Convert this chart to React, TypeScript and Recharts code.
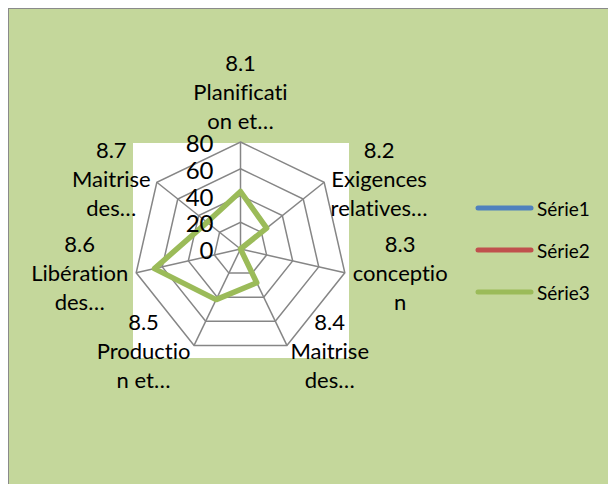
import React from "react";
import {
  RadarChart,
  Radar,
  PolarGrid,
  PolarAngleAxis,
  PolarRadiusAxis,
  Legend,
} from "recharts";

// axes and series
const categories = [
  "8.1\nPlanificati\non et…",
  "8.2\nExigences\nrelatives…",
  "8.3\nconceptio\nn",
  "8.4\nMaitrise\ndes…",
  "8.5\nProductio\nn et…",
  "8.6\nLibération\ndes…",
  "8.7\nMaitrise\ndes…",
];
const serie1 = [0, 0, 0, 0, 0, 0, 0];
const serie2 = [0, 0, 0, 0, 0, 0, 0];
const serie3 = [43, 25, 0, 28, 42, 66, 32];
const radiusTicks = [0, 20, 40, 60, 80];
const seriesNames = ["Série1", "Série2", "Série3"];

const data = categories.map((cat, i) => ({
  cat,
  s1: serie1[i],
  s2: serie2[i],
  s3: serie3[i],
}));

const FONT = "Lato, 'Open Sans', sans-serif";
const LABEL_SIZE = 22;
const CX = 231.5;
const CY = 240;
const LINE = 29;

// width of a line of label text, so each block can be centred like Excel does
let ctx: CanvasRenderingContext2D | null = null;
const textWidth = (s: string) => {
  if (!ctx) ctx = document.createElement("canvas").getContext("2d");
  if (!ctx) return s.length * 10;
  ctx.font = `${LABEL_SIZE}px ${FONT}`;
  return ctx.measureText(s).width;
};

const AngleTick = (props: any) => {
  const { x, y, textAnchor, payload } = props;
  const lines = String(payload.value).split("\n");
  const w = Math.max(...lines.map(textWidth));
  let center = x;
  if (textAnchor === "start") center = x + w / 2;
  if (textAnchor === "end") center = x - w / 2;
  // top label sits above the vertex, side labels are centred on it
  let mid = y < CY ? 10 : 6;
  if (textAnchor === "middle") mid = -34;
  return (
    <text
      x={center}
      y={y}
      textAnchor="middle"
      fontFamily={FONT}
      fontSize={LABEL_SIZE}
      fill="#000"
      style={{ fontVariantLigatures: "none" }}
    >
      {lines.map((l, i) => (
        <tspan key={i} x={center} y={y + mid + (i - 1) * LINE}>
          {l}
        </tspan>
      ))}
    </text>
  );
};

const RadiusTick = (props: any) => {
  const { x, y, payload } = props;
  return (
    <text
      x={x - 27}
      y={y + 10}
      textAnchor="end"
      fontFamily={FONT}
      fontSize={24}
      fill="#000"
    >
      {payload.value}
    </text>
  );
};

const renderLegend = () => {
  const colors = ["#4F81BD", "#C0504D", "#9BBB59"];
  return (
    <div style={{ fontFamily: FONT, fontSize: 19 }}>
      {seriesNames.map((n, i) => (
        <div
          key={n}
          style={{ display: "flex", alignItems: "center", height: 42 }}
        >
          <svg width={62} height={10} style={{ display: "block" }}>
            <line
              x1={3}
              y1={5}
              x2={56}
              y2={5}
              stroke={colors[i]}
              strokeWidth={5}
              strokeLinecap="round"
            />
          </svg>
          <span>{n}</span>
        </div>
      ))}
    </div>
  );
};

export default function App() {
  return (
    <div
      style={{
        position: "relative",
        width: 608,
        height: 476,
        boxSizing: "border-box",
        borderLeft: "1px solid #8a8a8a",
        borderTop: "1px solid #8a8a8a",
        background: "#C4D79B",
        overflow: "hidden",
      }}
    >
      <div
        style={{
          position: "absolute",
          left: 124,
          top: 134,
          width: 216,
          height: 215,
          background: "#fff",
        }}
      />
      <div style={{ position: "absolute", left: 0, top: 0 }}>
        <RadarChart
          width={607}
          height={475}
          data={data}
          cx={CX}
          cy={CY}
          outerRadius={107}
          margin={{ top: 0, right: 0, bottom: 0, left: 0 }}
        >
          <PolarGrid gridType="polygon" stroke="#868686" strokeWidth={1.5} />
          <PolarAngleAxis
            dataKey="cat"
            tick={AngleTick}
            tickLine={false}
            tickSize={8}
            axisLine={false}
          />
          <PolarRadiusAxis
            angle={90}
            domain={[0, 80]}
            ticks={radiusTicks as any}
            tickCount={5}
            tick={RadiusTick}
            axisLine={false}
            tickLine={false}
          />
          <Radar
            name={seriesNames[0]}
            dataKey="s1"
            stroke="#4F81BD"
            strokeWidth={5}
            fill="none"
            fillOpacity={0}
            dot={false}
            isAnimationActive={false}
          />
          <Radar
            name={seriesNames[1]}
            dataKey="s2"
            stroke="#C0504D"
            strokeWidth={5}
            fill="none"
            fillOpacity={0}
            dot={false}
            isAnimationActive={false}
          />
          <Radar
            name={seriesNames[2]}
            dataKey="s3"
            stroke="#9BBB59"
            strokeWidth={5.5}
            strokeLinejoin="round"
            fill="none"
            fillOpacity={0}
            dot={false}
            isAnimationActive={false}
          />
          <Legend
            content={renderLegend}
            wrapperStyle={{ left: 466, top: 178, width: 140 }}
          />
        </RadarChart>
      </div>
    </div>
  );
}
